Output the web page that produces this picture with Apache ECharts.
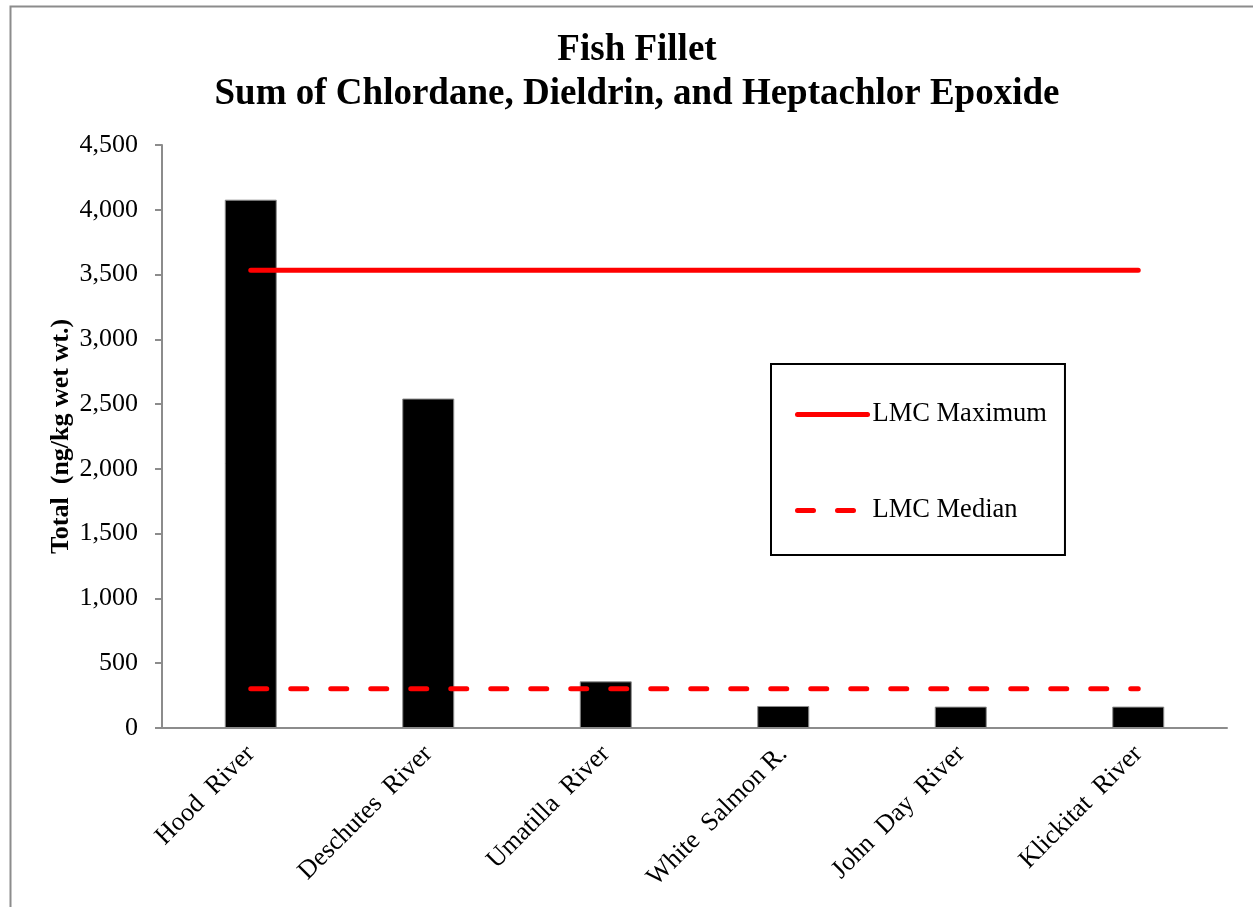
<!DOCTYPE html>
<html>
<head>
<meta charset="utf-8">
<script src="https://cdn.jsdelivr.net/npm/echarts@6/dist/echarts.min.js"></script>
<style>
  html, body { margin: 0; padding: 0; background: #fff; }
  #chart { width: 1253px; height: 907px; }
</style>
</head>
<body>
<div id="chart"></div>
<script>
// values
const rivers = ['Hood  River', 'Deschutes  River', 'Umatilla  River', 'White  Salmon R.', 'John  Day  River', 'Klickitat  River'];
const totals = [4078, 2543, 360, 170, 165, 165];
const lmcMax = [3533, 3533, 3533, 3533, 3533, 3533];
const lmcMedian = [303, 303, 303, 303, 303, 303];
const yTicks = { min: 0, max: 4500, interval: 500 };

const font = '"Liberation Serif", "Times New Roman", serif';

const myChart = echarts.init(document.getElementById('chart'));

myChart.setOption({
  animation: false,
  backgroundColor: '#fff',
  textStyle: { fontFamily: font },
  title: {
    text: 'Fish Fillet\nSum of Chlordane, Dieldrin, and Heptachlor Epoxide',
    left: 632,
    textAlign: 'center',
    top: 23,
    textStyle: { fontFamily: font, fontSize: 37, fontWeight: 'bold', color: '#000', lineHeight: 44 }
  },
  grid: { left: 162, right: 26, top: 145, bottom: 179 },
  legend: {
    orient: 'vertical',
    left: 771,
    top: 364,
    padding: [37, 18, 31, 24],
    borderColor: '#000',
    borderWidth: 2,
    itemWidth: 70,
    itemHeight: 22,
    itemGap: 69,
    itemStyle: { opacity: 0 },
    lineStyle: { width: 5, cap: 'round' },
    textStyle: { fontFamily: font, fontSize: 26.5, color: '#000' },
    data: ['LMC Maximum', 'LMC Median']
  },
  xAxis: {
    type: 'category',
    data: rivers,
    axisLine: { lineStyle: { color: '#8c8c8c', width: 2 } },
    axisTick: { show: false },
    axisLabel: { rotate: 45, interval: 0, margin: 22, fontFamily: font, fontSize: 26, color: '#000' }
  },
  yAxis: {
    type: 'value',
    min: yTicks.min,
    max: yTicks.max,
    interval: yTicks.interval,
    name: 'Total  (ng/kg wet wt.)',
    nameLocation: 'middle',
    nameGap: 88,
    nameMoveOverlap: false,
    nameTextStyle: { fontFamily: font, fontSize: 26, fontWeight: 'bold', color: '#000' },
    axisLine: { show: true, lineStyle: { color: '#8c8c8c', width: 2 } },
    axisTick: { show: true, length: 7, lineStyle: { color: '#8c8c8c', width: 2 } },
    splitLine: { show: false },
    axisLabel: {
      margin: 24,
      fontFamily: font,
      fontSize: 26,
      color: '#000',
      formatter: function (v) { return v.toLocaleString('en-US'); }
    }
  },
  series: [
    {
      name: 'Total',
      type: 'bar',
      data: totals,
      barWidth: 52,
      itemStyle: { color: '#000', borderColor: '#8c8c8c', borderWidth: 1 }
    },
    {
      name: 'LMC Maximum',
      type: 'line',
      data: lmcMax,
      symbol: 'none',
      lineStyle: { color: '#ff0000', width: 5, cap: 'round' },
      itemStyle: { color: '#ff0000' }
    },
    {
      name: 'LMC Median',
      type: 'line',
      data: lmcMedian,
      symbol: 'none',
      lineStyle: { color: '#ff0000', width: 5, type: [16, 24], cap: 'round' },
      itemStyle: { color: '#ff0000' }
    }
  ],
  graphic: [
    {
      type: 'rect',
      left: 8,
      top: 4,
      shape: { width: 1260, height: 920 },
      style: { fill: 'none', stroke: '#8c8c8c', lineWidth: 2 },
      silent: true,
      z: -1
    }
  ]
});
</script>
</body>
</html>
